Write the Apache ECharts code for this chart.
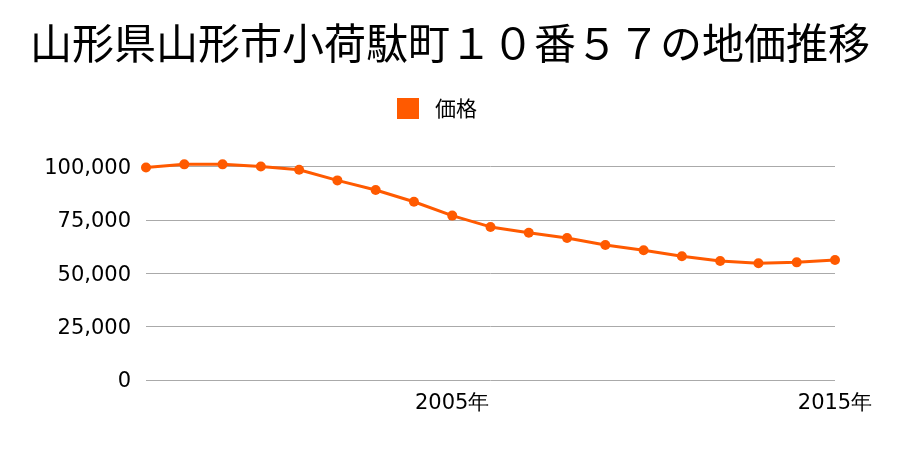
<!DOCTYPE html>
<html><head><meta charset="utf-8">
<script src="https://cdn.jsdelivr.net/npm/echarts@6/dist/echarts.min.js"></script>
<style>html,body{margin:0;padding:0;background:#fff}#c{width:900px;height:450px}</style>
</head><body><div id="c"></div>
<script>
const years = ['1997','1998','1999','2000','2001','2002','2003','2004','2005','2006','2007','2008','2009','2010','2011','2012','2013','2014','2015'];
const prices = [99500,101000,101000,100000,98500,93500,89000,83500,77000,71700,69000,66500,63200,60800,58000,55700,54700,55100,56200];
const shownYears = ['2005','2015'];
const yTicks = [0,25000,50000,75000,100000];
const seriesName = '価格';
const titleText = '山形県山形市小荷駄町１０番５７の地価推移';

const chart = echarts.init(document.getElementById('c'));
chart.setOption({
  animation:false,
  title:{text:titleText,left:'center',top:17,textStyle:{fontFamily:'Noto Sans CJK JP',fontSize:42,fontWeight:'normal',color:'#000'}},
  legend:{data:[{name:seriesName,icon:'rect'}],top:98,left:397,padding:0,itemWidth:22,itemHeight:21,
    textStyle:{fontFamily:'Noto Sans CJK JP',fontSize:21,color:'#000',padding:[0,0,0,11]}},
  grid:{left:146,right:65,top:166.5,bottom:70,containLabel:false},
  xAxis:{type:'category',data:years,boundaryGap:false,
    axisLine:{show:false},axisTick:{show:false},splitLine:{show:false},
    axisLabel:{interval:(i,v)=>shownYears.includes(v),formatter:v=>v+'年',fontFamily:'DejaVu Sans',fontSize:21,color:'#000',margin:13}},
  yAxis:{type:'value',min:yTicks[0],max:yTicks[yTicks.length-1],interval:25000,
    axisLine:{show:false},axisTick:{show:false},
    splitLine:{lineStyle:{color:'#aaaaaa',width:1}},
    axisLabel:{formatter:v=>v.toLocaleString('en-US'),fontFamily:'DejaVu Sans',fontSize:21,color:'#000',margin:15,verticalAlign:'top',lineHeight:26,padding:[-11,0,0,0]}},
  series:[{name:seriesName,type:'line',data:prices,color:'#ff5a00',symbol:'circle',symbolSize:10,clip:false,
    lineStyle:{width:3,color:'#ff5a00'},itemStyle:{color:'#ff5a00'}}]
});
</script></body></html>
